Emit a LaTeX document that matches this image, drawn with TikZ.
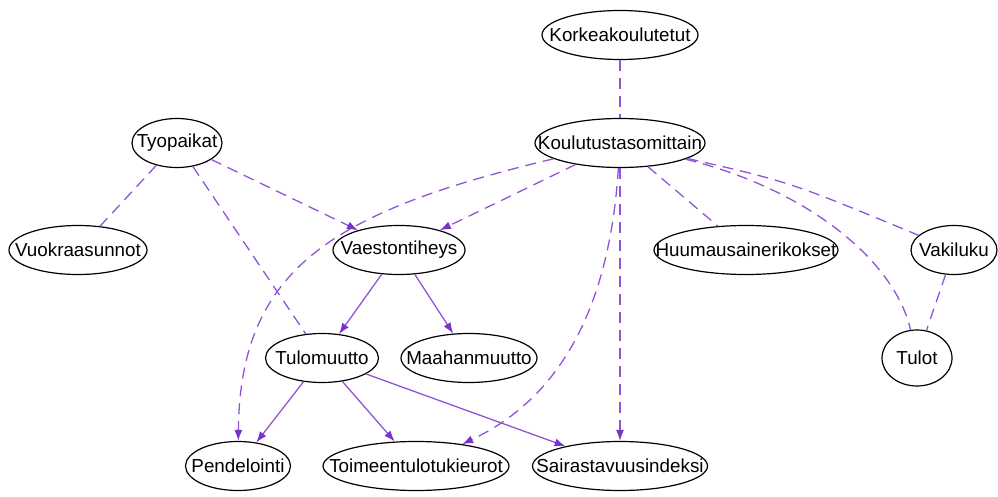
\documentclass[tikz,border=0pt]{standalone}
\usepackage{fontspec}
\setmainfont{Liberation Sans}
\usetikzlibrary{shapes.geometric,positioning,arrows.meta}
\definecolor{edgecol}{RGB}{146,84,214}
\definecolor{tipcol}{RGB}{118,52,200}
\newcommand{\Var}[1]{\makebox[0pt]{#1}}

\begin{document}
\begin{tikzpicture}[x=1pt, y=-1pt, on grid,
		var/.style={ellipse, draw, line width=1.2pt, minimum height=49pt, inner sep=0pt, font=\fontsize{18.8}{20}\selectfont},
		link/.style={edgecol, line width=1.3pt, dash pattern=on 11pt off 7pt},
		dlink/.style={link, -{Latex[length=11pt, width=8pt, color=tipcol]}},
		infl/.style={edgecol, line width=1.3pt, -{Latex[length=11pt, width=8pt, color=tipcol]}}]
		\useasboundingbox (0,0) rectangle (998,497);
		
		% Define nodes
		\node[var, minimum width=156pt] (kork) at (620,35) {\Var{Korkeakoulutetut}};
		\node[var, minimum width=170pt, below=108pt of kork] (koul) {\Var{Koulutustasomittain}};
		\node[var, minimum width=90pt, left=443pt of koul] (tyo) {\Var{Tyopaikat}};
		\node[var, minimum width=138pt, below left=107pt and 99pt of tyo] (vuok) {\Var{Vuokraasunnot}};
		\node[var, minimum width=132pt, below right=107pt and 222pt of tyo] (vaes) {\Var{Vaestontiheys}};
		\node[var, minimum width=184pt, below right=107pt and 126pt of koul] (huum) {\Var{Huumausainerikokset}};
		\node[var, minimum width=86pt, right=208pt of huum] (vaki) {\Var{Vakiluku}};
		\node[var, minimum width=113pt, below left=108pt and 77pt of vaes] (tulom) {\Var{Tulomuutto}};
		\node[var, minimum width=136pt, right=147pt of tulom] (maah) {\Var{Maahanmuutto}};
		\node[var, minimum width=70pt, minimum height=56pt, below left=108pt and 37pt of vaki] (tulot) {\Var{Tulot}};
		\node[var, minimum width=105pt, below left=108pt and 84pt of tulom] (pend) {\Var{Pendelointi}};
		\node[var, minimum width=186pt, below right=108pt and 94pt of tulom] (toim) {\Var{Toimeentulotukieurot}};
		\node[var, minimum width=175pt, right=204pt of toim] (sair) {\Var{Sairastavuusindeksi}};
		
		% Connect the nodes
		\draw[link] (kork) -- (koul);
		\draw[link] (tyo) -- (vuok);
		\draw[link] (tyo) -- (tulom);
		\draw[dlink] (tyo) -- (vaes);
		\draw[dlink] (koul) -- (vaes);
		\draw[dlink] (koul) .. controls (330,212) and (240,270) .. (pend);
		\draw[dlink] (koul) .. controls (608,330) and (545,405) .. (toim);
		\draw[dlink] (koul) -- (sair);
		\draw[link] (koul) -- (huum);
		\draw[link] (koul) .. controls (790,182) .. (vaki);
		\draw[link] (koul) .. controls (810,190) and (895,262) .. (tulot);
		\draw[link] (vaki) -- (tulot);
		\draw[infl] (vaes) -- (tulom);
		\draw[infl] (vaes) -- (maah);
		\draw[infl] (tulom) -- (pend);
		\draw[infl] (tulom) -- (toim);
		\draw[infl] (tulom) -- (sair);
	\end{tikzpicture}
\end{document}
